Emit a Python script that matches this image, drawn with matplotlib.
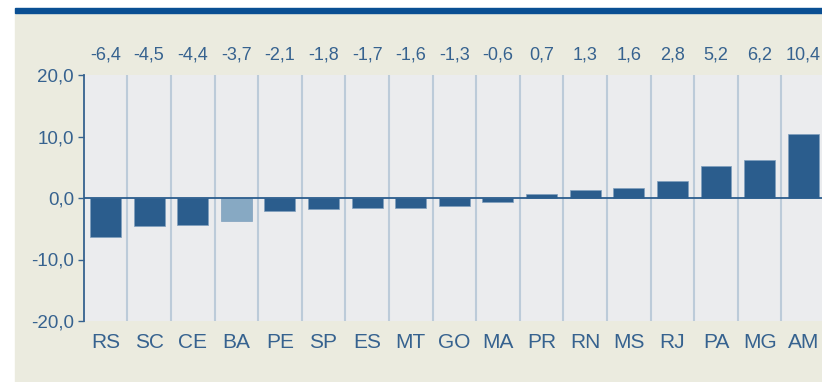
import matplotlib.pyplot as plt
import numpy as np

states = ['RS', 'SC', 'CE', 'BA', 'PE', 'SP', 'ES', 'MT', 'GO', 'MA',
          'PR', 'RN', 'MS', 'RJ', 'PA', 'MG', 'AM']
values = [-6.4, -4.5, -4.4, -3.7, -2.1, -1.8, -1.7, -1.6, -1.3, -0.6,
          0.7, 1.3, 1.6, 2.8, 5.2, 6.2, 10.4]
highlight = 'BA'

dark = '#2b5d8d'
light = '#87a9c3'
text_col = '#36628f'
beige = '#ebebdf'

plt.rcParams['font.family'] = ['Liberation Sans', 'DejaVu Sans']

fig = plt.figure(figsize=(8.22, 3.82), dpi=100)
fig.patch.set_facecolor('white')

# beige panel with blue rule across the top
fig.add_artist(plt.Rectangle((15 / 822, 0), 1, 1 - 13 / 382,
                             transform=fig.transFigure, color=beige, zorder=0))
fig.add_artist(plt.Rectangle((15 / 822, 1 - 13 / 382), 1, 5 / 382,
                             transform=fig.transFigure, color='#0a4f93', zorder=0))

ax = fig.add_axes([83.7 / 822, 1 - 321 / 382, 741.3 / 822, 246 / 382])
ax.set_facecolor('#ebecee')

x = np.arange(len(states))
colors = [light if s == highlight else dark for s in states]
ax.bar(x, values, width=0.71, color=colors, edgecolor='#7f9fbd', linewidth=0.5, zorder=2)

# category separators
for b in x[1:] - 0.5:
    ax.axvline(b, color='#bccbd9', linewidth=1.5, zorder=1)
ax.axhline(0, color=dark, linewidth=1.3, zorder=3)

ax.set_xlim(-0.5, len(states) - 0.5)
ax.set_ylim(-20, 20)
ax.set_yticks([-20, -10, 0, 10, 20])
ax.set_yticklabels([f'{v:.1f}'.replace('.', ',') for v in [-20, -10, 0, 10, 20]])
ax.set_xticks(x)
ax.set_xticklabels(states)

for i, v in enumerate(values):
    ax.text(i, 23.3, f'{v:.1f}'.replace('.', ','), ha='center', va='center',
            fontsize=13, color=text_col, clip_on=False)

for side in ['top', 'right', 'bottom']:
    ax.spines[side].set_visible(False)
ax.spines['left'].set_color(text_col)
ax.spines['left'].set_linewidth(1.3)
ax.tick_params(axis='y', colors=text_col, labelsize=13.5, length=4, width=1, pad=3)
ax.tick_params(axis='x', colors=text_col, labelsize=15, length=0, pad=9)

fig.savefig('out.png', dpi=100, facecolor=fig.get_facecolor())
